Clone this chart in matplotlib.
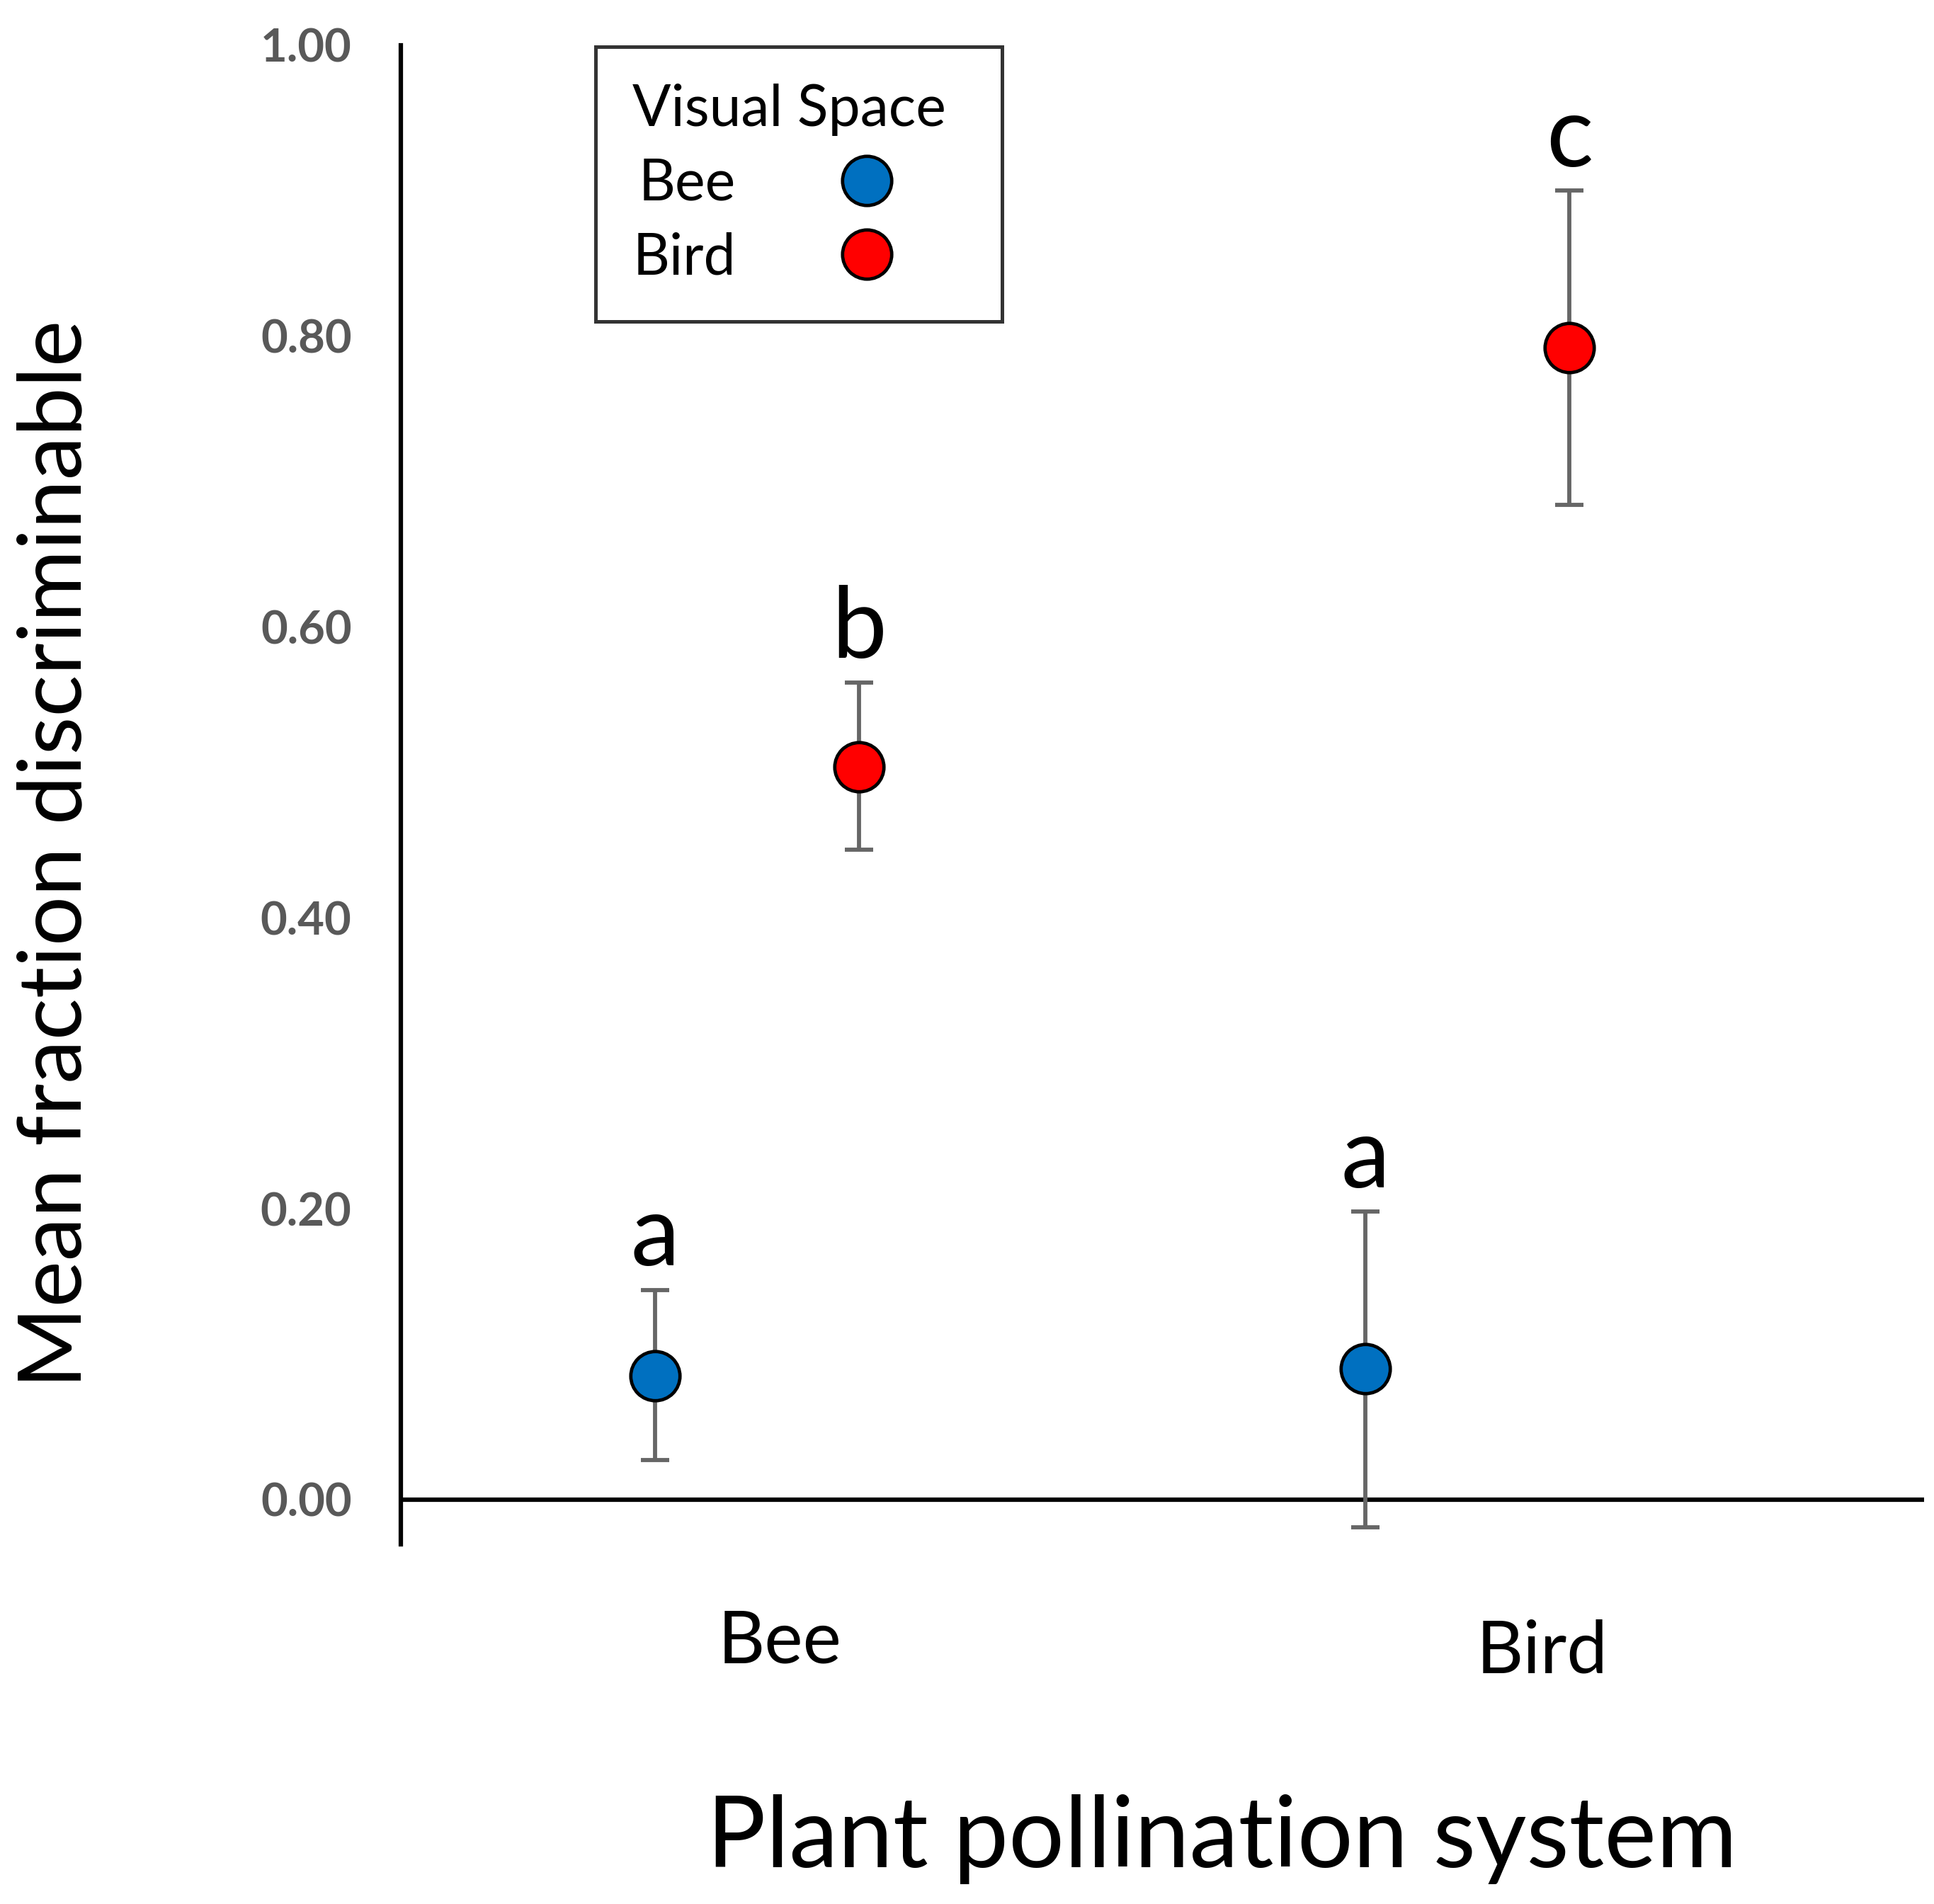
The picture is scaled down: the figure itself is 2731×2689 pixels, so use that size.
import matplotlib
matplotlib.use("Agg")
import matplotlib.pyplot as plt
from matplotlib.lines import Line2D
from matplotlib.transforms import ScaledTranslation

plt.rcParams["font.family"] = ["Lato", "DejaVu Sans"]

# data
pollination = ["Bee", "Bird"]
visual_spaces = ["Bee", "Bird"]
bee_space_mean = [0.085, 0.090]
bee_space_low = [0.027, -0.019]
bee_space_high = [0.144, 0.198]
bird_space_mean = [0.504, 0.792]
bird_space_low = [0.447, 0.684]
bird_space_high = [0.562, 0.900]
letters_bee_space = ["a", "a"]
letters_bird_space = ["b", "c"]
yticks = [0.0, 0.2, 0.4, 0.6, 0.8, 1.0]

colors = {"Bee": "#0070C0", "Bird": "#FF0000"}
offset = 0.1435
err_color = "#666666"

fig = plt.figure(figsize=(27.31, 26.89), dpi=100)
ax = fig.add_axes([0.20725, 0.18892, 0.78762, 0.78728])

series = [
    ("Bee", -offset, bee_space_mean, bee_space_low, bee_space_high, letters_bee_space),
    ("Bird", offset, bird_space_mean, bird_space_low, bird_space_high, letters_bird_space),
]
for name, dx, mean, low, high, letters in series:
    xs = [i + dx for i in range(len(pollination))]
    yerr = [[m - l for m, l in zip(mean, low)], [h - m for m, h in zip(mean, high)]]
    ax.errorbar(xs, mean, yerr=yerr, fmt="none", ecolor=err_color,
                elinewidth=4.2, capsize=14.5, capthick=4.2, zorder=2)
    ax.plot(xs, mean, "o", ms=50, mfc=colors[name], mec="black", mew=3.4,
            linestyle="none", zorder=3)
    for x, h, lab in zip(xs, high, letters):
        ax.annotate(lab, (x, h), xytext=(0, 25), textcoords="offset points",
                    ha="center", va="baseline", fontsize=100, color="black")

ax.axhline(0, color="black", lw=4.5, zorder=1)

ax.set_xlim(-0.5012, 1.6423)
ax.set_ylim(-0.0307, 1.0)

for s in ["top", "right", "bottom"]:
    ax.spines[s].set_visible(False)
ax.spines["left"].set_linewidth(4.5)
ax.spines["left"].set_color("black")

ax.set_yticks(yticks)
ax.set_yticklabels([f"{v:.2f}" for v in yticks])
ax.tick_params(axis="y", length=0, pad=50, labelsize=47, labelcolor="#595959")
for lab in ax.get_yticklabels():
    lab.set_fontweight("bold")

ax.set_xticks(range(len(pollination)))
ax.set_xticklabels(pollination)
ax.tick_params(axis="x", length=0, pad=66, labelsize=74)
label_shift = [(32, 0), (105, -14)]
for lab, (sx, sy) in zip(ax.get_xticklabels(), label_shift):
    lab.set_transform(lab.get_transform() + ScaledTranslation(sx / 100, sy / 100, fig.dpi_scale_trans))

ax.set_ylabel("Mean fraction discriminable", fontsize=89, va="bottom")
ax.yaxis.set_label_coords(-0.2, 0.4606)
ax.set_xlabel("Plant pollination system", fontsize=100, va="baseline")
ax.xaxis.set_label_coords(0.539, -0.2154)

handles = [Line2D([], [], marker="o", linestyle="none", ms=50, mfc=colors[n],
                  mec="black", mew=3.4) for n in visual_spaces]
leg = ax.legend(handles, visual_spaces, title="Visual Space", loc="upper left",
                bbox_to_anchor=(841 / 2731, 1 - 66 / 2689), bbox_transform=fig.transFigure,
                markerfirst=False, alignment="left", fontsize=58, title_fontsize=58,
                frameon=True, fancybox=False, borderpad=0.65, labelspacing=0.38,
                handletextpad=0.57, handlelength=3.45, borderaxespad=0)
leg.get_frame().set_edgecolor("black")
leg.get_frame().set_linewidth(3.6)

fig.savefig("out.png", dpi=100, facecolor="white")
